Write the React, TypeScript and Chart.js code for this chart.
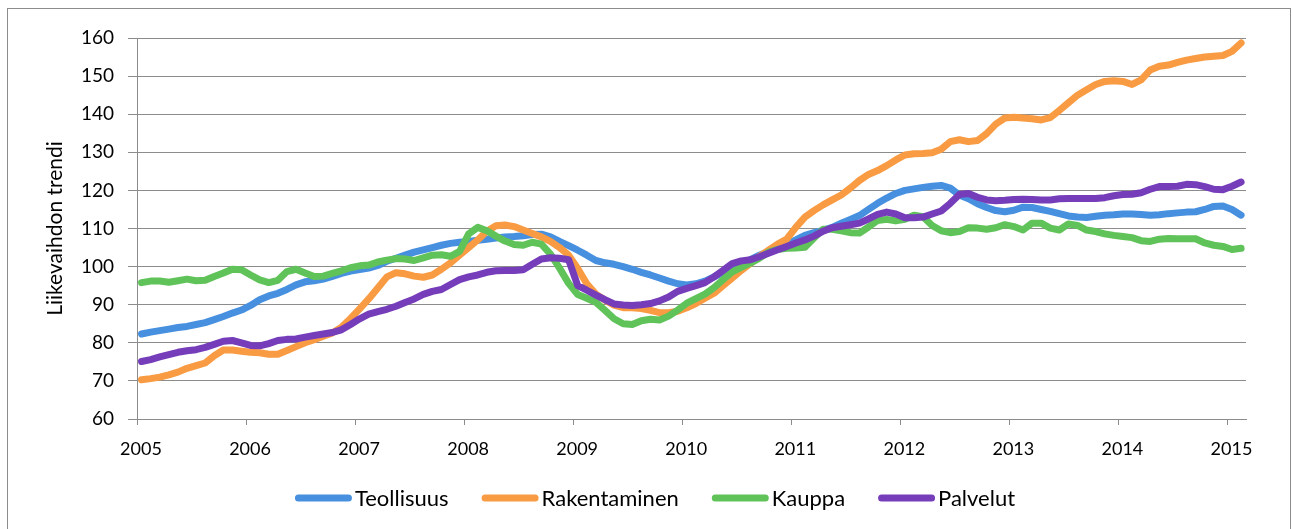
import React, { useEffect, useRef } from 'react';
import { Chart, registerables } from 'chart.js';

Chart.register(...registerables);

const FONT = "Lato, 'Noto Sans', sans-serif";
const GRID = '#8c8c8c';

const SERIES_NAMES = ['Teollisuus', 'Rakentaminen', 'Kauppa', 'Palvelut'];
const SERIES_COLORS = ['#4790df', '#f99b42', '#60c35a', '#763dba'];
const START_YEAR = 2005;
const X_MAX = 2015.17;
const YEAR_TICKS = [2005, 2006, 2007, 2008, 2009, 2010, 2011, 2012, 2013, 2014, 2015];
const Y_TICKS = [60, 70, 80, 90, 100, 110, 120, 130, 140, 150, 160];
const Y_TITLE = 'Liikevaihdon trendi';

// Monthly values, Jan 2005 .. Feb 2015
const teollisuus = [
  82.3, 82.8, 83.2, 83.6, 84.0, 84.3, 84.8, 85.3, 86.1, 86.9, 87.8, 88.6,
  89.8, 91.3, 92.3, 93.0, 94.0, 95.2, 96.0, 96.3, 96.7, 97.4, 98.2, 98.8,
  99.2, 99.6, 100.3, 101.4, 102.2, 103.0, 103.8, 104.4, 105.0, 105.6, 106.1, 106.4,
  106.6, 106.9, 107.2, 107.5, 107.8, 107.9, 108.1, 108.4, 108.5, 107.8, 106.6, 105.5,
  104.3, 103.0, 101.6, 101.0, 100.6, 100.0, 99.3, 98.5, 97.8, 97.0, 96.2, 95.5,
  95.2, 95.5, 96.2, 97.3, 98.5, 99.6, 100.8, 101.8, 103.0, 104.0, 105.2, 106.0,
  107.0, 108.2, 108.9, 109.5, 110.3, 111.4, 112.4, 113.4, 115.0, 116.6, 118.0, 119.2,
  120.0, 120.4, 120.8, 121.1, 121.3, 120.6, 118.8, 117.8, 116.5, 115.5, 114.7, 114.4,
  114.8, 115.6, 115.5, 115.0, 114.5, 113.9, 113.3, 113.0, 112.9, 113.2, 113.5, 113.6,
  113.8, 113.8, 113.7, 113.5, 113.6, 113.9, 114.1, 114.3, 114.4, 115.0, 115.8, 115.9,
  115.0, 113.5,
];

const rakentaminen = [
  70.3, 70.6, 71.0, 71.6, 72.3, 73.3, 74.0, 74.7, 76.6, 78.1, 78.1, 77.8,
  77.5, 77.4, 77.0, 77.0, 78.0, 79.0, 80.0, 80.8, 81.7, 82.6, 84.1, 86.4,
  88.9, 91.5, 94.4, 97.3, 98.4, 98.1, 97.5, 97.2, 97.8, 99.3, 101.0, 103.0,
  105.0, 107.0, 109.3, 110.7, 110.9, 110.5, 109.6, 108.7, 107.8, 106.6, 105.0, 103.0,
  99.5, 95.5, 92.8, 91.2, 89.9, 89.2, 89.2, 89.0, 88.5, 87.9, 87.9, 88.3,
  89.2, 90.3, 91.7, 93.0, 95.0, 97.0, 99.0, 100.8, 102.7, 104.3, 105.9, 107.2,
  110.3, 113.0, 114.7, 116.2, 117.5, 118.8, 120.6, 122.6, 124.2, 125.2, 126.5, 128.0,
  129.3, 129.6, 129.7, 129.9, 130.8, 132.8, 133.3, 132.8, 133.1, 134.9, 137.4, 139.0,
  139.2, 139.0, 138.8, 138.5, 139.1, 141.0, 143.0, 145.0, 146.4, 147.8, 148.6, 148.8,
  148.6, 147.8, 149.0, 151.6, 152.6, 152.9, 153.6, 154.2, 154.6, 155.0, 155.2, 155.4,
  156.5, 158.7,
];

const kauppa = [
  95.8, 96.2, 96.2, 95.9, 96.3, 96.7, 96.3, 96.4, 97.4, 98.3, 99.3, 99.2,
  97.8, 96.5, 95.8, 96.4, 98.7, 99.3, 98.3, 97.4, 97.5, 98.2, 98.9, 99.7,
  100.2, 100.4, 101.2, 101.7, 102.1, 102.0, 101.6, 102.3, 103.0, 103.1, 102.7, 104.0,
  108.6, 110.3, 109.4, 108.0, 106.7, 105.8, 105.6, 106.4, 105.9, 103.3, 99.6, 95.6,
  92.7, 91.7, 90.6, 88.5, 86.3, 85.0, 84.8, 85.8, 86.2, 86.0, 87.0, 88.6,
  90.4, 91.6, 92.8, 94.5, 96.6, 98.6, 99.8, 100.9, 102.2, 103.8, 104.5, 104.8,
  104.9, 105.1, 107.5, 109.8, 109.8, 109.4, 108.9, 108.8, 110.4, 112.1, 112.4, 112.0,
  112.4, 113.5, 113.1, 110.8, 109.4, 108.9, 109.2, 110.2, 110.1, 109.8, 110.2, 111.0,
  110.5, 109.6, 111.4, 111.4, 110.1, 109.6, 111.2, 110.8, 109.6, 109.2, 108.6, 108.2,
  107.9, 107.6, 106.8, 106.6, 107.2, 107.4, 107.3, 107.3, 107.3, 106.2, 105.6, 105.3,
  104.5, 104.8,
];

const palvelut = [
  75.1, 75.6, 76.3, 76.9, 77.5, 77.9, 78.2, 78.8, 79.6, 80.4, 80.6, 80.0,
  79.3, 79.2, 79.8, 80.6, 80.9, 81.0, 81.5, 81.9, 82.3, 82.7, 83.4, 84.8,
  86.3, 87.5, 88.2, 88.8, 89.6, 90.6, 91.5, 92.7, 93.5, 94.0, 95.3, 96.6,
  97.3, 97.8, 98.5, 98.9, 99.0, 99.0, 99.2, 100.6, 102.0, 102.3, 102.2, 101.8,
  95.0, 93.8, 92.5, 91.3, 90.2, 89.9, 89.8, 90.0, 90.3, 91.0, 92.0, 93.5,
  94.3, 95.0, 95.8, 97.3, 99.0, 100.8, 101.5, 101.8, 102.6, 103.5, 104.4, 105.3,
  106.2, 107.0, 108.0, 109.3, 110.2, 110.6, 111.0, 111.4, 112.5, 113.7, 114.3, 113.8,
  112.8, 112.8, 113.0, 113.8, 114.6, 116.6, 118.9, 119.2, 118.2, 117.5, 117.3, 117.4,
  117.6, 117.7, 117.6, 117.5, 117.5, 117.8, 117.9, 117.9, 117.9, 117.9, 118.1, 118.6,
  118.9, 119.0, 119.4, 120.3, 121.0, 121.0, 121.1, 121.6, 121.5, 121.0, 120.3, 120.2,
  121.1, 122.2,
];

const SERIES_VALUES = [teollisuus, rakentaminen, kauppa, palvelut];
// month positions (mid-month) on a year axis
const monthPositions = teollisuus.map((_, i) => START_YEAR + (i + 0.5) / 12);

const framePlugin = {
  id: 'frameAndLegend',
  beforeDraw(chart: any) {
    const ctx = chart.ctx;
    ctx.save();
    ctx.fillStyle = '#ffffff';
    ctx.fillRect(0, 0, chart.width, chart.height);
    ctx.strokeStyle = '#8c8c8c';
    ctx.lineWidth = 1;
    ctx.strokeRect(7.5, 8.5, 1283, 600);
    ctx.restore();
  },
  afterDraw(chart: any) {
    const ctx = chart.ctx;
    ctx.save();
    ctx.font = `22px ${FONT}`;
    const lineLen = 57;
    const gapText = 3;
    const gapItem = 33;
    const widths = SERIES_NAMES.map((n) => ctx.measureText(n).width);
    const total =
      widths.reduce((a, w) => a + lineLen + gapText + w, 0) + gapItem * (SERIES_NAMES.length - 1);
    let x = 655 - total / 2;
    const y = 498;
    SERIES_NAMES.forEach((name, i) => {
      ctx.strokeStyle = SERIES_COLORS[i];
      ctx.lineWidth = 7;
      ctx.lineCap = 'round';
      ctx.beginPath();
      ctx.moveTo(x + 3.5, y);
      ctx.lineTo(x + lineLen - 3.5, y);
      ctx.stroke();
      ctx.fillStyle = '#000000';
      ctx.textBaseline = 'alphabetic';
      ctx.textAlign = 'left';
      ctx.fillText(name, x + lineLen + gapText, y + 8);
      x += lineLen + gapText + widths[i] + gapItem;
    });
    ctx.restore();
  },
};

export default function App() {
  const canvasRef = useRef<HTMLCanvasElement | null>(null);

  useEffect(() => {
    if (!canvasRef.current) return;
    const chart = new Chart(canvasRef.current, {
      type: 'line',
      data: {
        datasets: SERIES_NAMES.map((name, s) => ({
          label: name,
          data: SERIES_VALUES[s].map((v, i) => ({ x: monthPositions[i], y: v })),
          borderColor: SERIES_COLORS[s],
          backgroundColor: SERIES_COLORS[s],
          borderWidth: 7,
          borderCapStyle: 'round',
          borderJoinStyle: 'round',
          pointRadius: 0,
          pointHoverRadius: 0,
          tension: 0,
          fill: false,
          order: SERIES_NAMES.length - s,
        })),
      },
      options: {
        responsive: false,
        animation: false,
        events: [],
        layout: { padding: { top: 38, right: 47, bottom: 0, left: 0 } },
        plugins: {
          legend: { display: false },
          tooltip: { enabled: false },
          title: { display: false },
        },
        scales: {
          x: {
            type: 'linear',
            min: START_YEAR,
            max: X_MAX,
            afterBuildTicks: (scale: any) => {
              scale.ticks = YEAR_TICKS.map((v) => ({ value: v }));
            },
            afterFit: (scale: any) => {
              scale.height = 110;
            },
            grid: {
              drawOnChartArea: false,
              drawTicks: true,
              tickLength: 6,
              color: GRID,
              lineWidth: 1,
            },
            border: { display: true, color: GRID, width: 1 },
            ticks: {
              color: '#000000',
              font: { family: FONT, size: 18 },
              padding: 13,
              labelOffset: 4,
              maxRotation: 0,
              autoSkip: false,
              callback: (v: any) => String(v),
            },
          },
          y: {
            type: 'linear',
            min: 60,
            max: 160,
            afterBuildTicks: (scale: any) => {
              scale.ticks = Y_TICKS.map((v) => ({ value: v }));
            },
            afterFit: (scale: any) => {
              scale.width = 137;
            },
            grid: {
              color: GRID,
              lineWidth: 1,
              drawTicks: true,
              tickLength: 9,
            },
            border: { display: true, color: GRID, width: 1 },
            ticks: {
              color: '#000000',
              font: { family: FONT, size: 19 },
              padding: 14,
              callback: (v: any) => String(v),
            },
            title: {
              display: true,
              text: Y_TITLE,
              color: '#000000',
              font: { family: FONT, size: 21 },
              padding: { top: 43, bottom: 0 },
            },
          },
        },
      } as any,
      plugins: [framePlugin],
    });
    return () => chart.destroy();
  }, []);

  return (
    <div style={{ position: 'fixed', left: 0, top: 0, width: 1293, height: 529, background: '#fff' }}>
      <canvas ref={canvasRef} width={1293} height={529} style={{ display: 'block' }} />
    </div>
  );
}
